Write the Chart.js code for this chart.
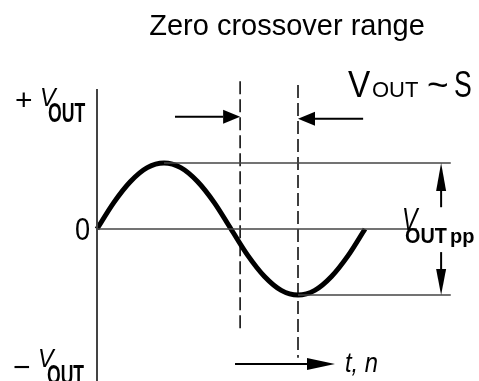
<!DOCTYPE html>
<html>
<head>
<meta charset="utf-8">
<script src="https://cdn.jsdelivr.net/npm/chart.js@4"></script>
<style>
  html, body { margin: 0; padding: 0; background: #fff; }
  #wrap { width: 479px; height: 381px; position: relative; }
</style>
</head>
<body>
<div id="wrap"><canvas id="crossover"></canvas></div>
<script>
// one period of the output signal (phase 0..1, amplitude -1..1)
const fase = [0, 0.0625, 0.125, 0.1875, 0.25, 0.3125, 0.375, 0.4375, 0.5, 0.5625, 0.625, 0.6875, 0.75, 0.8125, 0.875, 0.9375, 1];
const salida = [0, 0.4, 0.72, 0.93, 1, 0.93, 0.72, 0.4, 0, -0.4, -0.72, -0.93, -1, -0.93, -0.72, -0.4, 0];

// borders of the zero crossover range (phase)
const rangoCruce = [0.534, 0.75];

const titulo = "Zero crossover range";

const negro = "#000";
const grisLinea = "#444";

// guide lines, in the same units as the signal
const ejeY = [{ x: 0, y: 2.12 }, { x: 0, y: -2.4 }];
const lineaCero = [{ x: 0, y: 0 }, { x: 1.194, y: 0 }];
const lineaPico = [{ x: 0.25, y: 1 }, { x: 1.32, y: 1 }];
const lineaValle = [{ x: 0.75, y: -1 }, { x: 1.32, y: -1 }];
const guiaIzq = [{ x: rangoCruce[0], y: 2.24 }, { x: rangoCruce[0], y: -1.58 }];
const guiaDer = [{ x: rangoCruce[1], y: 2.18 }, { x: rangoCruce[1], y: -1.95 }];

// arrows: from -> to (head at "to")
const flechas = [
    { from: { x: 0.291, y: 1.7 }, to: { x: rangoCruce[0], y: 1.7 } },
    { from: { x: 0.993, y: 1.67 }, to: { x: rangoCruce[1], y: 1.67 } },
    { from: { x: 1.284, y: 0.33 }, to: { x: 1.284, y: 1 }, largo: 28, ancho: 5 },
    { from: { x: 1.284, y: -0.35 }, to: { x: 1.284, y: -1 }, largo: 26, ancho: 5 },
    { from: { x: 0.515, y: -2.045 }, to: { x: 0.888, y: -2.045 }, largo: 28, ancho: 6 },
];

function guia(datos, ancho, color, guiones) {
    return {
        data: datos,
        borderColor: color,
        borderWidth: ancho,
        borderDash: guiones || [],
        pointRadius: 0,
        showLine: true,
        clip: false,
        tension: 0,
    };
}

function texto(ctx, str, x, y, fuente, escalaX) {
    ctx.save();
    ctx.font = fuente;
    ctx.translate(x, y);
    ctx.scale(escalaX || 1, 1);
    ctx.fillText(str, 0, 0);
    ctx.restore();
}

const anotaciones = {
    id: "anotaciones",
    afterDatasetsDraw(chart) {
        const { ctx, scales } = chart;
        const px = (v) => scales.x.getPixelForValue(v);
        const py = (v) => scales.y.getPixelForValue(v);

        ctx.save();
        ctx.fillStyle = negro;
        ctx.strokeStyle = negro;

        flechas.forEach((f) => {
            const x1 = px(f.from.x), y1 = py(f.from.y);
            const x2 = px(f.to.x), y2 = py(f.to.y);
            const ang = Math.atan2(y2 - y1, x2 - x1);
            const largo = f.largo || 17;
            const ancho = f.ancho || 7;
            const bx = x2 - Math.cos(ang) * largo;
            const by = y2 - Math.sin(ang) * largo;
            ctx.lineWidth = 2;
            ctx.beginPath();
            ctx.moveTo(x1, y1);
            ctx.lineTo(bx, by);
            ctx.stroke();
            ctx.beginPath();
            ctx.moveTo(x2, y2);
            ctx.lineTo(bx + Math.sin(ang) * ancho, by - Math.cos(ang) * ancho);
            ctx.lineTo(bx - Math.sin(ang) * ancho, by + Math.cos(ang) * ancho);
            ctx.closePath();
            ctx.fill();
        });

        const sans = "'Liberation Sans', Arial, sans-serif";
        ctx.textBaseline = "alphabetic";

        // title
        ctx.textAlign = "center";
        texto(ctx, titulo, 287, 35, "29px " + sans);
        ctx.textAlign = "left";

        // VOUT ~ S
        texto(ctx, "V", 348, 97, "37px " + sans, 0.9);
        texto(ctx, "OUT", 372, 97, "22px " + sans);
        texto(ctx, "~", 427, 97, "37px " + sans);
        texto(ctx, "S", 454, 97, "37px " + sans, 0.72);

        // axis labels (condensed)
        texto(ctx, "+", 15, 110, "30px " + sans);
        texto(ctx, "V", 40, 106, "italic 26px " + sans, 0.9);
        texto(ctx, "OUT", 48, 122, "bold 28px " + sans, 0.63);

        texto(ctx, "0", 75, 240, "32px " + sans, 0.85);

        texto(ctx, "\u2212", 13, 377, "30px " + sans);
        texto(ctx, "V", 38, 367, "italic 26px " + sans, 0.9);
        texto(ctx, "OUT", 47, 384, "bold 27px " + sans, 0.65);

        texto(ctx, "t, n", 345, 372, "italic 28px " + sans, 0.85);

        // VOUTpp
        texto(ctx, "V", 402, 230, "italic 31px " + sans, 0.75);
        texto(ctx, "OUT", 405, 243, "bold 22px " + sans, 0.9);
        texto(ctx, "pp", 450, 243, "bold 20px " + sans, 1);

        ctx.restore();
    },
};

new Chart(document.getElementById("crossover"), {
    type: "scatter",
    data: {
        datasets: [
            guia(ejeY, 2, grisLinea),
            guia(lineaCero, 1.5, grisLinea),
            guia(lineaPico, 1.5, grisLinea),
            guia(lineaValle, 1.5, grisLinea),
            guia(guiaIzq, 1.5, negro, [13, 5]),
            guia(guiaDer, 1.5, negro, [13, 5]),
            {
                data: fase.map((t, i) => ({ x: t, y: salida[i] })),
                borderColor: negro,
                borderWidth: 5,
                pointRadius: 0,
                showLine: true,
                cubicInterpolationMode: "monotone",
                clip: false,
            },
        ],
    },
    options: {
        responsive: true,
        maintainAspectRatio: false,
        animation: false,
        layout: { padding: { left: 97, right: 114, top: 163, bottom: 86 } },
        scales: {
            x: { type: "linear", min: 0, max: 1, display: false },
            y: { type: "linear", min: -1, max: 1, display: false },
        },
        plugins: {
            legend: { display: false },
            tooltip: { enabled: false },
        },
    },
    plugins: [anotaciones],
});
</script>
</body>
</html>
